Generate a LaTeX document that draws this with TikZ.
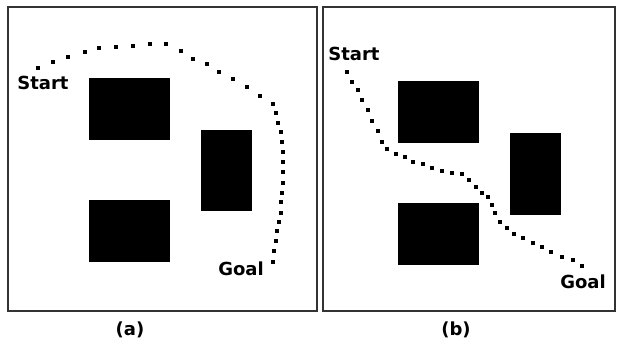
\documentclass[tikz,border=0pt]{standalone}
\usepackage{fontspec}
\setmainfont{DejaVu Sans}
\begin{document}
\begin{tikzpicture}[x=1pt,y=-1pt,
  frame/.style={draw=black!80,line width=1.2pt},
  obstacle/.style={fill=black},
  lbl/.style={font=\bfseries\fontsize{18}{20}\selectfont,inner sep=0pt},
  caption/.style={font=\bfseries\fontsize{18}{20}\selectfont,inner sep=0pt},
  pathdot/.style={fill=black}]
\useasboundingbox (0,0) rectangle (618,343);

% panel (a)
\draw[frame] (8,7) rectangle (317,311);
\fill[obstacle] (89,78) rectangle (170,140);
\fill[obstacle] (201,130) rectangle (252,211);
\fill[obstacle] (89,200) rectangle (170,262);
\node[lbl] (startA) at (43,83) {Start};
\node[lbl] (goalA) at (241,269) {Goal};
\node[caption] (capA) at (130,330) {(a)};
\foreach \x/\y in {38/68,53/62,68/57,85/52,99/48,116/47,133/46,150/44,166/44,
  181/51,193/59,207/64,219/72,233/79,247/87,260/96,273/104,276/113,278/123,
  281/132,282/142,283/152,283/162,283/172,283/183,282/193,281/202,281/213,
  279/222,277/231,276/241,274/251,273/262}
  \fill[pathdot] (\x-1.6,\y-1.6) rectangle (\x+1.6,\y+1.6);

% panel (b)
\draw[frame] (323,7) rectangle (615,311);
\fill[obstacle] (398,81) rectangle (479,143);
\fill[obstacle] (510,133) rectangle (561,215);
\fill[obstacle] (398,203) rectangle (479,265);
\node[lbl] (startB) at (354,54) {Start};
\node[lbl] (goalB) at (583,282) {Goal};
\node[caption] (capB) at (456,330) {(b)};
\foreach \x/\y in {347/72,352/82,358/90,362/100,368/110,372/121,378/131,382/142,
  387/149,396/154,405/157,413/162,423/164,432/168,442/171,452/173,462/174,
  469/180,476/187,482/193,488/197,492/205,495/213,500/222,507/228,514/234,
  523/238,533/243,542/247,551/252,562/257,573/260,582/266}
  \fill[pathdot] (\x-1.6,\y-1.6) rectangle (\x+1.6,\y+1.6);
\end{tikzpicture}
\end{document}
